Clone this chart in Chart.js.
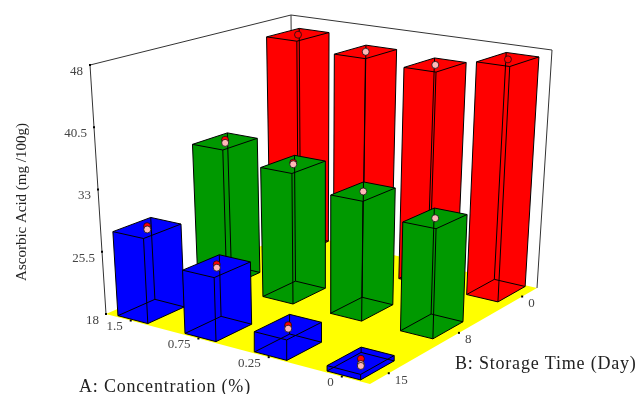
<!DOCTYPE html>
<html>
<head>
<meta charset="utf-8">
<title>Ascorbic Acid</title>
<script src="https://cdn.jsdelivr.net/npm/chart.js@4/dist/chart.umd.min.js"></script>
<style>
  html, body { margin: 0; padding: 0; background: #fff; overflow: hidden; }
  canvas { display: block; }
</style>
</head>
<body>
<canvas id="myChart" width="638" height="394"></canvas>
<script>
// categories and tick labels
const concentration = ['1.5', '0.75', '0.25', '0'];
const storageTime = ['15', '8', '0'];
const valueTicks = [18, 25.5, 33, 40.5, 48];

// bar heights, one list per storage time, in concentration order
const barsDay15 = [28.1, 25.4, 20.3, 18.6];
const barsDay8 = [35.3, 34.0, 32.3, 30.8];
const barsDay0 = [46.4, 45.4, 45.0, 47.0];

// design points
const redDay15 = [28.3, 25.6, 20.5, 18.8];
const pinkDay15 = [27.9, 25.2, 20.1, 18.2];
const redDay8 = [35.5, 34.2, null, null];
const pinkDay8 = [35.1, 34.0, 32.3, 30.8];
const redDay0 = [46.4, null, null, 47.0];
const pinkDay0 = [null, 45.4, 45.0, null];
const lowPoint = [null, null, null, 18.0];

const barSeries = [barsDay15, barsDay8, barsDay0];
const redSeries = [redDay15, redDay8, redDay0];
const pinkSeries = [pinkDay15, pinkDay8, pinkDay0];
const barColors = ['#0000ff', '#009900', '#ff0000'];

// box corners on the page, (u,v) = (0,0) (1,0) (1,1) (0,1)
const floorQuad = [[106, 314], [370, 384], [537, 288], [293, 232]];
const topQuad = [[90, 65], [373, 108], [552, 50], [291, 15]];

const homography = (q) => {
  const [p0, p1, p2, p3] = q;
  const dx1 = p1[0] - p2[0], dx2 = p3[0] - p2[0], sx = p0[0] - p1[0] + p2[0] - p3[0];
  const dy1 = p1[1] - p2[1], dy2 = p3[1] - p2[1], sy = p0[1] - p1[1] + p2[1] - p3[1];
  const d = dx1 * dy2 - dx2 * dy1;
  const g = (sx * dy2 - dx2 * sy) / d;
  const h = (dx1 * sy - sx * dy1) / d;
  const a = p1[0] - p0[0] + g * p1[0], b = p3[0] - p0[0] + h * p3[0];
  const e = p1[1] - p0[1] + g * p1[1], f = p3[1] - p0[1] + h * p3[1];
  return (u, v) => {
    const w = g * u + h * v + 1;
    return [(a * u + b * v + p0[0]) / w, (e * u + f * v + p0[1]) / w];
  };
};
const floorAt = homography(floorQuad);
const topAt = homography(topQuad);

// data space (u, v, value) to the x/y of the chart scales
const project = (u, v, val) => {
  const t = (val - valueTicks[0]) / (valueTicks[valueTicks.length - 1] - valueTicks[0]);
  const a = floorAt(u, v), b = topAt(u, v);
  return { x: a[0] + (b[0] - a[0]) * t, y: a[1] + (b[1] - a[1]) * t };
};
const levelPos = (i, n) => 0.1 + 0.8 * i / (n - 1);
const halfU = 0.06, halfV = 0.09;
const base = valueTicks[0], roof = valueTicks[valueTicks.length - 1];
const GAP = { x: null, y: null };

const datasets = [];
const addShape = (pts, fillColor, stroke) => datasets.push({
  data: [...pts, pts[0]], showLine: true, fill: 'shape', backgroundColor: fillColor,
  borderColor: stroke || fillColor, borderWidth: stroke ? 1 : 0, pointRadius: 0, tension: 0
});
const addLines = (segs, color) => {
  const data = [];
  segs.forEach(s => { data.push(...s, GAP); });
  datasets.push({ data, showLine: true, fill: false, borderColor: color, borderWidth: 1, pointRadius: 0, tension: 0, spanGaps: false });
};
const addDots = (pts, color) => {
  if (pts.length) datasets.push({ data: pts, showLine: false, pointRadius: 3.5, pointBackgroundColor: color, pointBorderColor: '#111', pointBorderWidth: 0.8 });
};

// walls and floor
addShape([project(0, 0, base), project(1, 0, base), project(1, 1, base), project(0, 1, base)], '#ffff00');
addLines([
  [project(0, 0, base), project(0, 0, roof)],
  [project(0, 0, roof), project(0, 1, roof)],
  [project(0, 1, roof), project(1, 1, roof)],
  [project(1, 1, roof), project(1, 1, base)],
  [project(0, 1, roof), project(0, 1, base)]
], '#333');

// bars back to front
for (let j = storageTime.length - 1; j >= 0; j--) {
  for (let i = 0; i < concentration.length; i++) {
    const u = levelPos(i, concentration.length), v = levelPos(j, storageTime.length);
    const val = barSeries[j][i];
    const lo = [[u - halfU, v - halfV], [u + halfU, v - halfV], [u + halfU, v + halfV], [u - halfU, v + halfV]];
    const b = lo.map(c => project(c[0], c[1], base));
    const t = lo.map(c => project(c[0], c[1], val));
    addShape([b[0], b[1], b[2], t[2], t[3], t[0]], barColors[j]);
    const segs = [];
    for (let k = 0; k < 4; k++) {
      segs.push([b[k], b[(k + 1) % 4]], [t[k], t[(k + 1) % 4]], [b[k], t[k]]);
    }
    addLines(segs, '#000');
    const dots = [redSeries[j][i], pinkSeries[j][i], j === 0 ? lowPoint[i] : null];
    const top = project(u, v, Math.max(...dots.filter(d => d !== null)));
    addLines([[project(u, v, val), top]], '#000');
    addDots(redSeries[j][i] !== null ? [project(u, v, redSeries[j][i])] : [], '#ff0000');
    addDots(pinkSeries[j][i] !== null ? [project(u, v, pinkSeries[j][i])] : [], '#ffb8b8');
    if (j === 0 && lowPoint[i] !== null) addDots([project(u, v, lowPoint[i])], '#ffb8b8');
  }
}
datasets.forEach((d, idx) => { d.order = datasets.length - idx; });

// tick marks and text of the box axes
const boxText = {
  id: 'boxText',
  afterDraw(chart) {
    const { ctx, scales: { x, y } } = chart;
    const px = p => [x.getPixelForValue(p.x), y.getPixelForValue(p.y)];
    const tick = p => { const [a, b] = px(p); ctx.fillStyle = '#000'; ctx.fillRect(a - 1, b - 1, 2, 2); };
    const label = (s, p, dx, dy) => { const [a, b] = px(p); ctx.fillStyle = '#444'; ctx.fillText(s, a + dx, b + dy); };

    ctx.save();
    ctx.font = '13px "Liberation Serif"';
    ctx.textBaseline = 'middle';
    ctx.textAlign = 'right';
    valueTicks.forEach(val => {
      const p = project(0, 0, val);
      tick(p);
      label(String(val), p, -7, 6.5);
    });
    concentration.forEach((s, i) => {
      const p = project(levelPos(i, concentration.length), 0, base);
      tick(p);
      label(s, p, -8, 6);
    });
    ctx.textAlign = 'left';
    storageTime.forEach((s, j) => {
      const p = project(1, levelPos(j, storageTime.length), base);
      tick(p);
      label(s, p, 6, 7);
    });

    ctx.font = '18px "Liberation Serif"';
    ctx.fillStyle = '#222';
    ctx.textBaseline = 'alphabetic';
    ctx.letterSpacing = '0.8px';
    ctx.fillText('A: Concentration (%)', 79, 392);
    ctx.fillText('B: Storage Time (Day)', 455, 369);
    ctx.letterSpacing = '0px';
    ctx.font = '15px "Liberation Serif"';
    ctx.translate(26, 202);
    ctx.rotate(-Math.PI / 2);
    ctx.textAlign = 'center';
    ctx.fillText('Ascorbic Acid (mg /100g)', 0, 0);
    ctx.restore();
  }
};

new Chart(document.getElementById('myChart'), {
  type: 'scatter',
  data: { datasets },
  plugins: [boxText],
  options: {
    responsive: false,
    animation: false,
    layout: { padding: 0, autoPadding: false },
    plugins: { legend: { display: false }, tooltip: { enabled: false } },
    scales: {
      x: { type: 'linear', min: 0, max: 638, display: false },
      y: { type: 'linear', min: 0, max: 394, reverse: true, display: false }
    }
  }
});
</script>
</body>
</html>
